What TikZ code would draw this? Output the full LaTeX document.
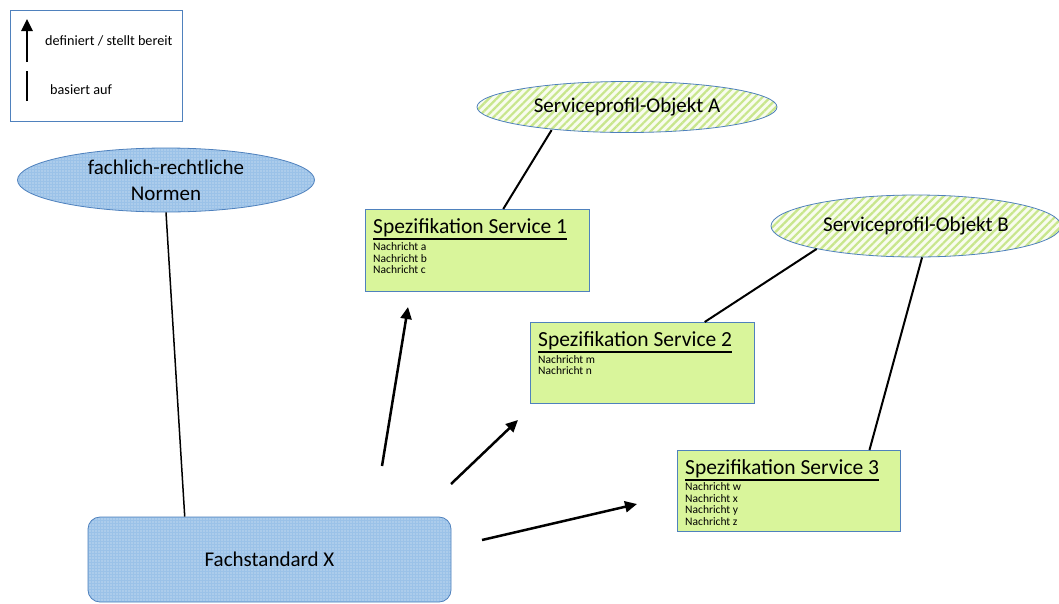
\documentclass[tikz,border=0pt]{standalone}
\usepackage{fontspec}
\setmainfont{Carlito}
\usetikzlibrary{patterns.meta,calc,shapes.geometric,arrows.meta}
\definecolor{edge}{RGB}{79,129,189}
\definecolor{blueA}{RGB}{155,194,232}
\definecolor{greenS}{RGB}{200,230,140}
\definecolor{greenB}{RGB}{248,252,238}
\definecolor{specfill}{RGB}{217,245,155}
\newcommand\myul[1]{\leavevmode\vtop{\hbox{#1}\kern1.5pt\hrule height 1.6pt}}
\begin{document}
\begin{tikzpicture}[x=1pt,y=-1pt,
  bigtext/.style={font=\fontsize{21}{26}\selectfont},
  smalltext/.style={font=\fontsize{11.5}{12}\selectfont, inner sep=0pt, anchor=base west},
  bluefill/.style={draw=edge, line width=0.8pt, preaction={fill=blueA},
    pattern={Dots[radius=0.7pt,distance=3pt]}, pattern color=white!75!blueA},
  greenfill/.style={draw=edge, line width=0.8pt, preaction={fill=greenB},
    pattern={Lines[angle=45,distance=5.5pt,line width=2.2pt]}, pattern color=greenS},
  ell/.style={ellipse, inner sep=0pt, align=center, bigtext},
  specbox/.style={rectangle, draw=edge, line width=0.8pt, fill=specfill, inner sep=0pt, anchor=north west},
  titletext/.style={font=\fontsize{21.5}{24}\selectfont, inner sep=0pt, anchor=base west},
  conn/.style={line width=2pt},
  arr/.style={line width=2.5pt, -{Triangle[length=12pt,width=11pt]}},
  legtext/.style={font=\fontsize{14.2}{15}\selectfont, inner sep=0pt, anchor=west}
]
\useasboundingbox (0,0) rectangle (1059,603);
\fill[white] (0,0) rectangle (1059,603);

% legend
\node[draw=edge, line width=1.2pt, minimum width=172pt, minimum height=111pt, inner sep=0pt, anchor=north west] (leg) at (10,10) {};
\coordinate (la1) at (27,62);
\coordinate (la2) at (27,19);
\coordinate (lb1) at (27,101);
\coordinate (lb2) at (27,71);
\draw[arr] (la1) -- (la2);
\draw[line width=2.5pt] (lb1) -- (lb2);
\node[legtext] (lt1) at (45,41) {definiert / stellt bereit};
\node[legtext] (lt2) at (50,90) {basiert auf};

% ellipses
\node[ell, bluefill, minimum width=297pt, minimum height=64pt] (N) at (166,180) {fachlich-rechtliche\\Normen};
\node[ell, greenfill, minimum width=300pt, minimum height=51pt] (A) at (627,107) {Serviceprofil-Objekt A};
\node[ell, greenfill, minimum width=290pt, minimum height=62pt] (B) at (916,226) {Serviceprofil-Objekt B};

% Fachstandard
\node[bluefill, rectangle, rounded corners=12pt, minimum width=363pt, minimum height=85pt, inner sep=0pt, bigtext] (F) at (269.5,559.5) {Fachstandard X};

% specs
\node[specbox, minimum width=224pt, minimum height=82pt] (S1) at (365,209) {};
\node[specbox, minimum width=224pt, minimum height=81pt] (S2) at (530,322) {};
\node[specbox, minimum width=223pt, minimum height=81pt] (S3) at (677,450) {};

\node[titletext] (T1) at ($(S1.north west)+(8,24)$) {\myul{Spezifikation Service 1}};
\node[titletext] (T2) at ($(S2.north west)+(8,24)$) {\myul{Spezifikation Service 2}};
\node[titletext] (T3) at ($(S3.north west)+(8,24)$) {\myul{Spezifikation Service 3}};

\node[smalltext] (m1a) at ($(S1.north west)+(8,41.5)$) {Nachricht a};
\node[smalltext] (m1b) at ($(S1.north west)+(8,53)$) {Nachricht b};
\node[smalltext] (m1c) at ($(S1.north west)+(8,64.5)$) {Nachricht c};
\node[smalltext] (m2m) at ($(S2.north west)+(8,41)$) {Nachricht m};
\node[smalltext] (m2n) at ($(S2.north west)+(8,52.5)$) {Nachricht n};
\node[smalltext] (m3w) at ($(S3.north west)+(8,40.5)$) {Nachricht w};
\node[smalltext] (m3x) at ($(S3.north west)+(8,52)$) {Nachricht x};
\node[smalltext] (m3y) at ($(S3.north west)+(8,63.5)$) {Nachricht y};
\node[smalltext] (m3z) at ($(S3.north west)+(8,75)$) {Nachricht z};

% connectors (basiert auf)
\draw[line width=1.5pt] (N.south) -- ($(F.north west)!0.267!(F.north east)$);
\draw[conn] (A.197) -- ($(S1.north west)!0.615!(S1.north east)$);
\draw[conn] (B.193) -- ($(S2.north west)!0.777!(S2.north east)$);
\draw[conn] (B.281) -- ($(S3.north west)!0.86!(S3.north east)$);

% arrows (definiert)
\coordinate (a1s) at (382,466);
\coordinate (a1e) at (408,307);
\coordinate (a2s) at (451,484);
\coordinate (a2e) at (518,420);
\coordinate (a3s) at (482,540);
\coordinate (a3e) at (637,504);
\draw[arr] (a1s) -- (a1e);
\draw[arr] (a2s) -- (a2e);
\draw[arr] (a3s) -- (a3e);
\end{tikzpicture}
\end{document}
